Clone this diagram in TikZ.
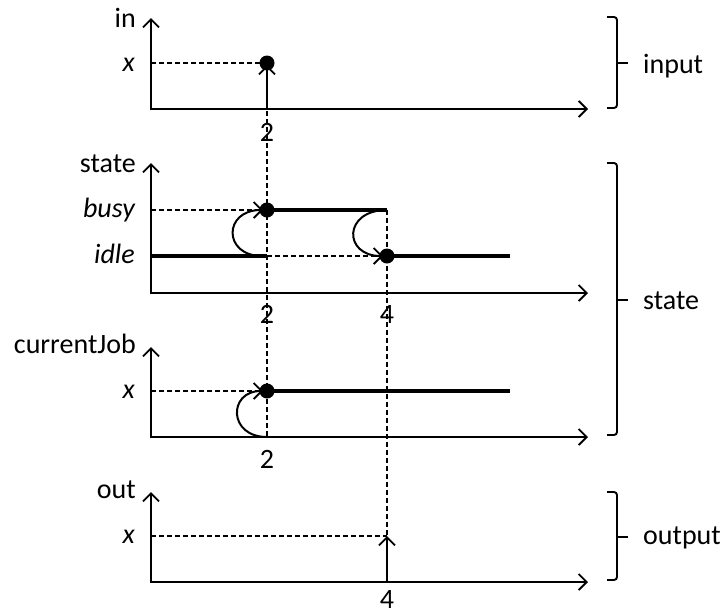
\documentclass[tikz,border=0pt]{standalone}
\usepackage{fontspec}
\setmainfont{Carlito}
\usetikzlibrary{arrows.meta}
\tikzset{
  barb/.tip={Straight Barb[length=8pt,width=16pt,line width=1.9pt]},
  axes/.style={line width=2.4pt, barb-barb},
  guide/.style={line width=1.6pt, dash pattern=on 5pt off 3pt},
  sig/.style={line width=3.8pt},
  dot/.style={circle, fill=black, inner sep=0pt, minimum size=15pt},
  trans/.style={line width=2pt, -barb},
  lbl/.style={font=\fontsize{28}{32}\selectfont, inner sep=0pt},
  vlbl/.style={font=\fontsize{28}{32}\selectfont\itshape, inner sep=0pt, anchor=base east},
  ylbl/.style={lbl, anchor=base east},
  tick/.style={lbl, anchor=base},
  grp/.style={lbl, anchor=base west},
  brace/.style={line width=1.9pt, rounded corners=3pt},
}
\begin{document}
\begin{tikzpicture}[x=1pt,y=-1pt]
\useasboundingbox (0,0) rectangle (726,614);

% ---------- axes ----------
\coordinate (inY) at (151,18);  \coordinate (inO) at (151,109); \coordinate (inX) at (588,109);
\coordinate (stY) at (151,163); \coordinate (stO) at (151,293); \coordinate (stX) at (588,293);
\coordinate (cjY) at (151,347); \coordinate (cjO) at (151,437); \coordinate (cjX) at (588,437);
\coordinate (otY) at (151,492); \coordinate (otO) at (151,582); \coordinate (otX) at (588,582);
\draw[axes] (inY) -- (inO) -- (inX);
\draw[axes] (stY) -- (stO) -- (stX);
\draw[axes] (cjY) -- (cjO) -- (cjX);
\draw[axes] (otY) -- (otO) -- (otX);

% ---------- axis labels ----------
\node[ylbl] (Lin) at (136,27) {in};
\node[vlbl] (Lx1) at (135,71) {x};
\node[ylbl] (Lst) at (136,172) {state};
\node[vlbl] (Lbusy) at (135,217) {busy};
\node[vlbl] (Lidle) at (135,263) {idle};
\node[ylbl] (Lcj) at (136,353) {currentJob};
\node[vlbl] (Lx2) at (135,398) {x};
\node[ylbl] (Lout) at (136,498) {out};
\node[vlbl] (Lx3) at (135,543) {x};

% ---------- tick labels ----------
\node[tick] (T1) at (267,141) {2};
\node[tick] (T2) at (267,323) {2};
\node[tick] (T3) at (387,323) {4};
\node[tick] (T4) at (267,468) {2};
\node[tick] (T5) at (387,608) {4};

% ---------- key points ----------
\coordinate (inB) at (267,109);
\coordinate (inH) at (151,63);
\coordinate (bH) at (151,210);
\coordinate (iH) at (151,256);
\coordinate (iA) at (267,256);
\coordinate (bE) at (387,210);
\coordinate (iE) at (510,256);
\coordinate (cjH) at (151,391);
\coordinate (cjB) at (267,437);
\coordinate (cjE) at (510,391);
\coordinate (oH) at (151,536);
\coordinate (oT) at (387,536);
\coordinate (oB) at (387,582);

% ---------- guides (dashed) ----------
\draw[guide] (inH) -- (267,63);
\draw[guide] (bH) -- (267,210);
\draw[guide] (iA) -- (387,256);
\draw[guide] (cjH) -- (267,391);
\draw[guide] (oH) -- (oT);
\draw[guide] (267,63) -- (cjB);
\draw[guide] (bE) -- (oT);

% ---------- signals ----------
\draw[sig] (iH) -- (iA);
\draw[sig] (267,210) -- (bE);
\draw[sig] (387,256) -- (iE);
\draw[sig] (267,391) -- (cjE);

% ---------- events / transitions ----------
\draw[trans] (inB) -- (267,65);
\draw[trans] (oB) -- (oT);
\draw[trans] (262,256) .. controls (223,256) and (223,210) .. (263,210);
\draw[trans] (387,210) .. controls (343,210) and (343,256) .. (383,256);
\draw[trans] (cjB) .. controls (228,437) and (228,391) .. (263,391);

% ---------- dots ----------
\node[dot] (D1) at (267,63) {};
\node[dot] (D2) at (267,210) {};
\node[dot] (D3) at (387,256) {};
\node[dot] (D4) at (267,391) {};

% ---------- braces ----------
\draw[brace] (607,17) -- (617,17) -- (617,108) -- (607,108);
\draw[brace] (617,63) -- (628,63);
\draw[brace] (607,163) -- (617,163) -- (617,435) -- (607,435);
\draw[brace] (617,300) -- (628,300);
\draw[brace] (607,492) -- (617,492) -- (617,580) -- (607,580);
\draw[brace] (617,537) -- (628,537);
\node[grp] (Ginput) at (643,73) {input};
\node[grp] (Gstate) at (643,309) {state};
\node[grp] (Goutput) at (643,544) {output};
\end{tikzpicture}
\end{document}
